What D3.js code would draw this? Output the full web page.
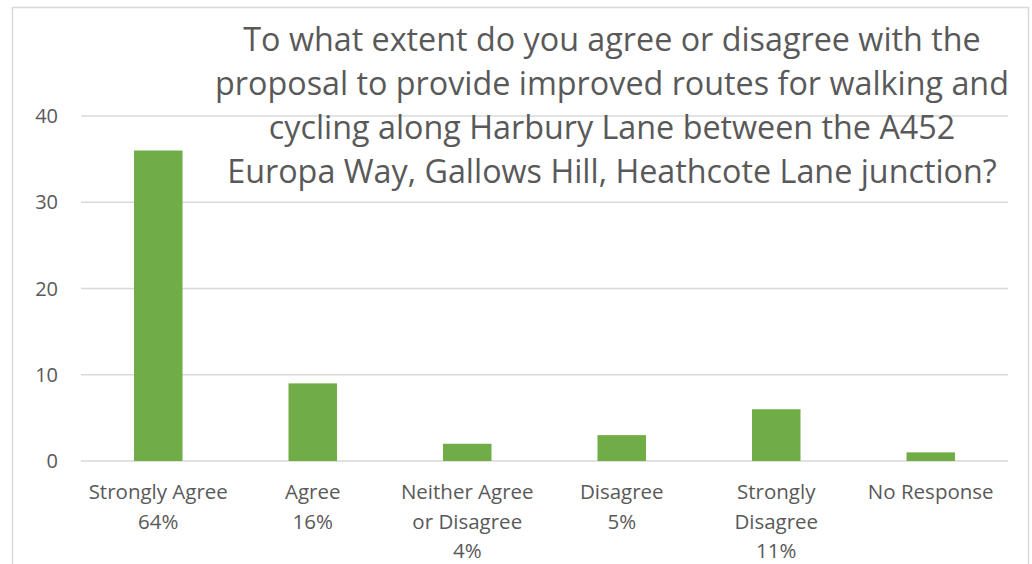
<!DOCTYPE html>
<html>
<head>
<meta charset="utf-8">
<script src="https://d3js.org/d3.v7.min.js"></script>
<style>
    body { margin: 0; background: #ffffff; }
    .font { font-family: "Open Sans", "Noto Sans", sans-serif; fill: #595959; }
    .grid line { stroke: #d9d9d9; stroke-width: 1.5; }
    .bar { fill: #70ad47; }
</style>
</head>
<body>
<script>
    // data
    const CATEGORY_LINES = [
        ["Strongly Agree"],
        ["Agree"],
        ["Neither Agree", "or Disagree"],
        ["Disagree"],
        ["Strongly", "Disagree"],
        ["No Response"]
    ];
    const COUNTS = [36, 9, 2, 3, 6, 1];
    const PERCENTS = ["64%", "16%", "4%", "5%", "11%", ""];
    const Y_TICKS = [0, 10, 20, 30, 40];
    const TITLE_LINES = [
        "To what extent do you agree or disagree with the",
        "proposal to provide improved routes for walking and",
        "cycling along Harbury Lane between the A452",
        "Europa Way, Gallows Hill, Heathcote Lane junction?"
    ];

    const WIDTH = 1032, HEIGHT = 564;
    const PLOT_LEFT = 81, PLOT_RIGHT = 1008, PLOT_TOP = 116, PLOT_BOTTOM = 461;

    var svg = d3.select("body").append("svg")
        .attr("width", WIDTH)
        .attr("height", HEIGHT);

    // chart border
    svg.append("rect")
        .attr("x", 12.5).attr("y", 7.5)
        .attr("width", 1016).attr("height", 600)
        .attr("fill", "#ffffff")
        .attr("stroke", "#d9d9d9")
        .attr("stroke-width", 1.5);

    var idx = COUNTS.map(function(d, i) { return i; });
    var x = d3.scaleBand()
        .domain(idx)
        .range([PLOT_LEFT, PLOT_RIGHT])
        .paddingInner(0.686)
        .paddingOuter(0.343);

    var y = d3.scaleLinear()
        .domain([0, 40])
        .range([PLOT_BOTTOM, PLOT_TOP]);

    // gridlines
    var grid = svg.append("g").attr("class", "grid");
    grid.selectAll("line")
        .data(Y_TICKS)
        .enter()
        .append("line")
        .attr("x1", PLOT_LEFT)
        .attr("x2", PLOT_RIGHT)
        .attr("y1", function(d) { return y(d); })
        .attr("y2", function(d) { return y(d); });

    // y tick labels
    svg.append("g").selectAll("text")
        .data(Y_TICKS)
        .enter()
        .append("text")
        .attr("class", "font")
        .attr("x", 58)
        .attr("y", function(d) { return y(d); })
        .attr("dy", "0.35em")
        .attr("text-anchor", "end")
        .style("font-size", "20px")
        .text(function(d) { return d; });

    // bars
    svg.append("g").selectAll("rect")
        .data(COUNTS)
        .enter()
        .append("rect")
        .attr("class", "bar")
        .attr("x", function(d, i) { return x(i); })
        .attr("width", x.bandwidth())
        .attr("y", function(d) { return y(d); })
        .attr("height", function(d) { return y(0) - y(d); });

    // category labels
    var labels = svg.append("g").selectAll("text")
        .data(idx)
        .enter()
        .append("text")
        .attr("class", "font")
        .attr("text-anchor", "middle")
        .style("font-size", "20.5px");
    labels.each(function(i) {
        var lines = CATEGORY_LINES[i].slice();
        if (PERCENTS[i] !== "") {
            lines.push(PERCENTS[i]);
        }
        var t = d3.select(this);
        lines.forEach(function(line, k) {
            t.append("tspan")
                .attr("x", x(i) + x.bandwidth() / 2)
                .attr("y", 492 + k * 29.5)
                .attr("dy", "0.35em")
                .text(line);
        });
    });

    // title
    svg.append("g").selectAll("text")
        .data(TITLE_LINES)
        .enter()
        .append("text")
        .attr("class", "font")
        .attr("x", 612)
        .attr("y", function(d, i) { return 40 + i * 44; })
        .attr("dy", "0.35em")
        .attr("text-anchor", "middle")
        .style("font-size", "32.3px")
        .text(function(d) { return d; });
</script>
</body>
</html>
